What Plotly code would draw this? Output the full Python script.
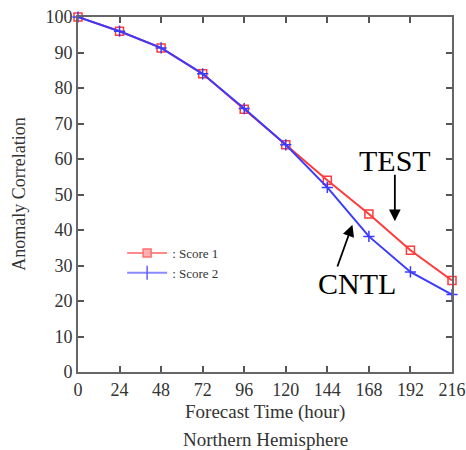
import plotly.graph_objects as go

hours = [0, 24, 48, 72, 96, 120, 144, 168, 192, 216]
score1 = [100, 96, 91.3, 84, 74, 64, 54, 44.5, 34.3, 25.8]
score2 = [100, 96, 91.3, 84, 74.2, 64, 52, 38.2, 28.2, 21.8]
x_ticks = [0, 24, 48, 72, 96, 120, 144, 168, 192, 216]
y_ticks = [0, 10, 20, 30, 40, 50, 60, 70, 80, 90, 100]

serif = "Liberation Serif"

fig = go.Figure()
fig.add_trace(go.Scatter(
    x=hours, y=score1, mode="lines+markers", name=": Score 1", showlegend=False,
    line=dict(color="#ff3b3b", width=2),
    marker=dict(symbol="square-open", size=8, color="#ff3b3b", line=dict(width=1.5)),
    cliponaxis=False,
))
fig.add_trace(go.Scatter(
    x=hours, y=score2, mode="lines+markers", name=": Score 2", showlegend=False,
    line=dict(color="#3b3bff", width=2),
    marker=dict(symbol="cross-thin-open", size=8, color="#3b3bff", line=dict(width=1.5, color="#3b3bff")),
    cliponaxis=False,
))
# legend entries (lighter, as in the reference legend)
fig.add_trace(go.Scatter(
    x=[None], y=[None], mode="lines+markers", name=": Score 1",
    line=dict(color="#ff8a8a", width=2),
    marker=dict(symbol="square", size=8, color="#ffb0b0", line=dict(width=1.5, color="#ff7070")),
))
fig.add_trace(go.Scatter(
    x=[None], y=[None], mode="lines+markers", name=": Score 2",
    line=dict(color="#8a8aff", width=2),
    marker=dict(symbol="line-ns", size=10, color="#6060ff", line=dict(width=1.5, color="#6060ff")),
))

axis_common = dict(
    showgrid=False, zeroline=False, ticks="inside", ticklen=6, tickwidth=1.5,
    tickcolor="#555", showline=True, linecolor="#666", linewidth=2, mirror="ticks",
    tickfont=dict(family=serif, size=18, color="#333"), automargin=False,
)
fig.update_xaxes(range=[0, 216], tickvals=x_ticks, **axis_common)
fig.update_yaxes(range=[0, 100], tickvals=y_ticks, **axis_common)

anns = [
    dict(text="Forecast Time (hour)", x=0.5, y=-0.113, xref="paper", yref="paper",
         showarrow=False, yanchor="middle", font=dict(family=serif, size=19, color="#333")),
    dict(text="Northern Hemisphere", x=0.5, y=-0.19, xref="paper", yref="paper",
         showarrow=False, yanchor="middle", font=dict(family=serif, size=19, color="#333")),
    dict(text="Anomaly Correlation", x=-0.16, y=0.5, xref="paper", yref="paper",
         showarrow=False, textangle=-90, xanchor="center", font=dict(family=serif, size=18, color="#333")),
    dict(text="TEST", x=183, y=59.7, xref="x", yref="y", showarrow=False,
         font=dict(family=serif, size=30, color="black")),
    dict(text="CNTL", x=161, y=25.0, xref="x", yref="y", showarrow=False,
         font=dict(family=serif, size=30, color="black")),
    dict(text="", x=183, y=42.5, ax=183, ay=56, xref="x", yref="y", axref="x", ayref="y",
         showarrow=True, arrowhead=2, arrowsize=1.3, arrowwidth=1.8, arrowcolor="black"),
    dict(text="", x=158.5, y=41.5, ax=149.5, ay=29.3, xref="x", yref="y", axref="x", ayref="y",
         showarrow=True, arrowhead=2, arrowsize=1.3, arrowwidth=1.8, arrowcolor="black"),
]

fig.update_layout(
    width=466, height=450,
    margin=dict(l=78, r=14, t=17, b=78),
    plot_bgcolor="white", paper_bgcolor="white",
    showlegend=True,
    legend=dict(x=0.118, y=0.307, xanchor="left", yanchor="middle", bgcolor="rgba(0,0,0,0)",
                font=dict(family=serif, size=13, color="#333"), tracegroupgap=0, itemwidth=40),
    annotations=anns,
)

fig.write_html("out.html", config={"displayModeBar": False})

# remove the default page margin so the figure fills the window exactly
with open("out.html", "r", encoding="utf-8") as f:
    html = f.read()
html = html.replace("<head>", "<head><style>html,body{margin:0;padding:0;overflow:hidden;}</style>", 1)
with open("out.html", "w", encoding="utf-8") as f:
    f.write(html)
